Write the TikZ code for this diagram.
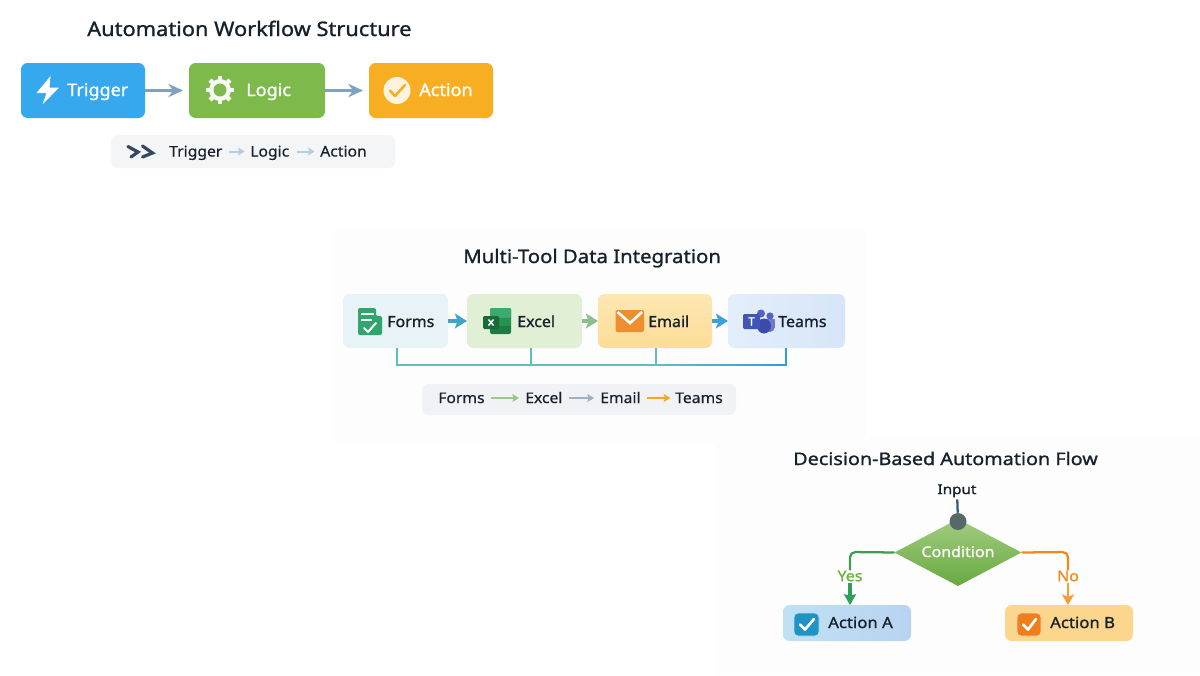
\documentclass[tikz,border=0pt]{standalone}
\usepackage{fontspec}
\setmainfont{Noto Sans}
\newfontfamily\semiA[FakeBold=1.1,FakeStretch=1.04]{Noto Sans}
\newfontfamily\semiB[FakeBold=1.1,FakeStretch=1.09]{Noto Sans}
\newfontfamily\semiC[FakeBold=1.1,FakeStretch=1.14]{Noto Sans}
\newfontfamily\semiD[FakeBold=.5,FakeStretch=1.07]{Noto Sans}
\usetikzlibrary{arrows.meta,shapes.geometric,calc}
\definecolor{ink}{HTML}{17212B}
\definecolor{flow}{HTML}{7FA3BE}
\definecolor{flowdark}{HTML}{34495E}
\definecolor{bus}{HTML}{5FBDBE}
\definecolor{busblue}{HTML}{2F9BE8}
\definecolor{cTrigger}{HTML}{36A8EE}
\definecolor{cLogic}{HTML}{7DB94B}
\definecolor{cAction}{HTML}{F7AE22}
\definecolor{cStrip}{HTML}{F3F5F6}
\definecolor{cStripB}{HTML}{F0F2F5}
\definecolor{cForms}{HTML}{E8F3F7}
\definecolor{cExcel}{HTML}{E1F0D5}
\definecolor{cEmailT}{HTML}{FEE7B2}
\definecolor{cEmailB}{HTML}{FCDD96}
\definecolor{cTeamsL}{HTML}{E3EEFA}
\definecolor{cTeamsR}{HTML}{D6E5F9}
\definecolor{cAL}{HTML}{C0E1F4}
\definecolor{cAR}{HTML}{B8D3F1}
\definecolor{cB}{HTML}{FCD68C}
\definecolor{cDT}{HTML}{A2CC80}
\definecolor{cDB}{HTML}{68A940}
\definecolor{cPanel}{HTML}{FDFDFE}
\definecolor{aForms}{HTML}{3FA4C8}
\definecolor{aExcel}{HTML}{8FBC8F}
\definecolor{aEmail}{HTML}{3AA0DE}
\definecolor{sGreen}{HTML}{9CC68A}
\definecolor{sGrey}{HTML}{9DB2C5}
\definecolor{sOrange}{HTML}{F5A623}
\definecolor{iForms}{HTML}{32A56E}
\definecolor{xDark}{HTML}{1E7B45}
\definecolor{xMid}{HTML}{25924F}
\definecolor{xLight}{HTML}{3BAA6E}
\definecolor{iMail}{HTML}{EF8E2E}
\definecolor{tBlue}{HTML}{3F56B5}
\definecolor{tPurple}{HTML}{5561C4}
\definecolor{tDeep}{HTML}{3C4BA8}
\definecolor{inLine}{HTML}{2F5D7C}
\definecolor{inDot}{HTML}{56686A}
\definecolor{yesLine}{HTML}{3E9E4F}
\definecolor{yesTxt}{HTML}{6CB33F}
\definecolor{yesArrow}{HTML}{2F9E5B}
\definecolor{noLine}{HTML}{F08A1D}
\definecolor{noArrow}{HTML}{F59E2F}
\definecolor{chkA}{HTML}{1F93C4}
\definecolor{chkB}{HTML}{F07E1A}
\tikzset{
  px/.style={x=0.75pt,y=-0.75pt},
  box/.style 2 args={rectangle,rounded corners=5pt,minimum width=0.75pt*#1,minimum height=0.75pt*#2,inner sep=0,outer sep=0},
  bigarrow/.style={draw=flow,line width=2.1pt,-{Stealth[length=11pt,width=10pt,inset=3.5pt]}},
  tiny/.style={line width=1.5pt,-{Stealth[length=5pt,width=6pt,inset=1pt]}},
  midarrow/.style={line width=2.4pt,-{Stealth[length=9pt,width=11pt,inset=2pt]}},
  boxtxt/.style={anchor=base west,inner sep=0,text=white,font=\semiA\fontsize{13}{15}\selectfont},
  lab/.style={anchor=base west,inner sep=0,text=ink,font=\semiA\fontsize{11.5}{14}\selectfont},
  striptxt/.style={anchor=base west,inner sep=0,text=ink,font=\semiD\fontsize{11}{14}\selectfont},
  titl/.style={anchor=base west,inner sep=0,text=ink,font=\semiB\fontsize{#1}{18}\selectfont},
  busline/.style={draw=bus,line width=1.7pt},
  chk/.style={draw=white,line width=2pt,line cap=round,line join=round},
}
\begin{document}
\begin{tikzpicture}[px]
\useasboundingbox (0,0) rectangle (1200,675);
\fill[white] (0,0) rectangle (1200,675);
\fill[cPanel,rounded corners=6pt] (332,230) rectangle (866,442);
\fill[cPanel] (715,437) rectangle (1200,675);

% ---------- Section 1
\node[titl=15] (t1) at (87,36) {Automation Workflow Structure};
\node[box={124}{55},fill=cTrigger] (trigger) at (83,90.5) {};
\node[box={136}{55},fill=cLogic] (logic) at (257,90.5) {};
\node[box={124}{55},fill=cAction] (action) at (431,90.5) {};
\node[boxtxt] (ltrigger) at (67,96) {Trigger};
\node[boxtxt] (llogic) at (246,96) {Logic};
\node[boxtxt] (laction) at (419,96) {Action};
\draw[bigarrow,shorten >=4.5pt] (trigger) -- (logic);
\draw[bigarrow,shorten >=4.5pt] (logic) -- (action);
\fill[white] (50.5,76) -- (36.5,93) -- (46.5,93) -- (42.5,104.5) -- (59,87.5) -- (49.5,87.5) -- cycle;
\begin{scope}[shift={(220,90)}]
  \foreach \a in {0,45,...,315}
    \draw[draw=white!93!cLogic,line width=3.2pt] (\a:9) -- (\a:14);
  \fill[white!93!cLogic] (0,0) circle (11);
  \fill[cLogic] (0,0) circle (6.5);
\end{scope}
\fill[white!85!cAction] (397,90.5) circle (13.5);
\draw[draw=cAction,line width=1.9pt,line cap=round,line join=round] (390,90.5) -- (395,96) -- (405,85);

\node[box={284}{33},fill=cStrip] (strip1) at (253,151.5) {};
\draw[draw=flowdark,line width=2.4pt,line cap=round] (128,146.5) -- (138,152) -- (131,157);
\draw[draw=flowdark,line width=2.4pt,line cap=round] (142.5,146) -- (152.5,153) -- (142.5,157);
\node[striptxt] (s1a) at (169,156.5) {Trigger};
\node[striptxt] (s1b) at (250,156.5) {Logic};
\node[striptxt] (s1c) at (320,156.5) {Action};
\coordinate (y1) at (0,151.5);
\draw[tiny,draw=flow!55,shorten <=5pt,shorten >=4pt] (s1a.east |- y1) -- (s1b.west |- y1);
\draw[tiny,draw=flow!55,shorten <=6pt,shorten >=4pt] (s1b.east |- y1) -- (s1c.west |- y1);

% ---------- Section 2
\node[titl=14] (t2) at (463,263) {Multi-Tool Data Integration};
\node[box={105}{54},fill=cForms] (forms) at (395.5,321) {};
\node[box={115}{54},fill=cExcel] (excel) at (524.5,321) {};
\node[box={114}{54},top color=cEmailT,bottom color=cEmailB] (email) at (655,321) {};
\node[box={117}{54},left color=cTeamsL,right color=cTeamsR] (teams) at (786.5,321) {};
\node[lab] (lforms) at (387,327) {Forms};
\node[lab] (lexcel) at (517,327) {Excel};
\node[lab] (lemail) at (648,327) {Email};
\node[lab] (lteams) at (778,327) {Teams};
\draw[midarrow,draw=aForms] (forms) -- (excel);
\draw[midarrow,draw=aExcel] (excel) -- (email);
\draw[midarrow,draw=aEmail] (email) -- (teams);
% forms icon
\fill[iForms,rounded corners=1.5pt] (358,308) -- (376,308) -- (376,316) -- (382,316) -- (382,335) -- (358,335) -- cycle;
\draw[white,line width=1.6pt] (361,314) -- (374,314);
\draw[white,line width=1.6pt] (361,320) -- (372,320);
\draw[chk,line width=1.5pt] (364,328) -- (368,332) -- (376,323);
% excel icon
\fill[xDark,rounded corners=1.5pt] (490,308) rectangle (511,334);
\fill[xLight,rounded corners=1.5pt] (490,308) rectangle (511,318);
\fill[xMid] (490,318) rectangle (511,326);
\fill[xDark!85!black,rounded corners=1pt] (483,316) rectangle (499,329);
\draw[white,line width=1.1pt] (488.5,319.5) -- (493.5,325.5) (493.5,319.5) -- (488.5,325.5);
% email icon
\fill[iMail,rounded corners=1.5pt] (615.5,310) rectangle (644,332);
\draw[white,line width=2pt,line join=miter] (617.5,312) -- (630,323) -- (642,312);
% teams icon
\fill[tPurple] (770,316) circle (3.6);
\fill[tPurple] (761,313.5) circle (4);
\fill[tPurple!85!white] (765,319) rectangle (775,328);
\fill[tPurple!85!white] (770,327) ellipse (4.8 and 5);
\fill[tDeep] (764,326) ellipse (7 and 7.5);
\fill[tBlue,rounded corners=1pt] (743,314) rectangle (760,329);
\node[inner sep=0,text=white,font=\semiA\fontsize{8.5}{9}\selectfont] (tT) at (751.5,321.5) {T};
% bus
\coordinate (b1) at (397,365);
\coordinate (b2) at (531,365);
\coordinate (b3) at (656,365);
\coordinate (b4) at (786,365);
\draw[busline] (397,348) -- (b1) -- (b2);
\draw[busline] (531,348) -- (b2) -- (b3);
\draw[busline] (656,348) -- (b3);
\foreach \i in {0,...,12} {
  \pgfmathsetmacro{\xa}{656+\i*10}
  \pgfmathsetmacro{\xb}{\xa+10.3}
  \pgfmathsetmacro{\mixv}{100-\i*8}
  \draw[draw=bus!\mixv!busblue,line width=1.7pt] (\xa,365) -- (\xb,365);
}
\draw[draw=busblue,line width=1.7pt,line join=miter] (786,348) -- (b4) -- (780,365);

\node[box={314}{31},fill=cStripB] (strip2) at (579,399.5) {};
\node[striptxt] (s2a) at (438,403) {Forms};
\node[striptxt] (s2b) at (525,403) {Excel};
\node[striptxt] (s2c) at (600,403) {Email};
\node[striptxt] (s2d) at (675,403) {Teams};
\coordinate (y2) at (0,398);
\draw[tiny,line width=1.9pt,draw=sGreen,shorten <=4.5pt,shorten >=4.5pt] (s2a.east |- y2) -- (s2b.west |- y2);
\draw[tiny,line width=1.9pt,draw=sGrey,shorten <=4.5pt,shorten >=4.5pt] (s2b.east |- y2) -- (s2c.west |- y2);
\draw[tiny,line width=1.9pt,draw=sOrange,shorten <=4.5pt,shorten >=3.5pt] (s2c.east |- y2) -- (s2d.west |- y2);

% ---------- Section 3
\node[anchor=base west,inner sep=0,text=ink,font=\semiC\fontsize{13}{18}\selectfont] (t3) at (793,465) {Decision-Based Automation Flow};
\node[inner sep=0,text=ink,anchor=base,font=\semiC\fontsize{10}{12}\selectfont] (input) at (957,494) {Input};
\node[diamond,minimum width=0.75pt*127,minimum height=0.75pt*67,aspect=1.9,inner sep=0,outer sep=0,top color=cDT,bottom color=cDB] (cond) at (958,552.5) {};
\node[inner sep=0,text=white,font=\semiB\fontsize{11}{12}\selectfont] (lcond) at (958,551.5) {Condition};
\node[circle,minimum size=0.75pt*17,inner sep=0,fill=inDot] (dot) at (958,521.5) {};
\draw[draw=inLine,line width=1.7pt,shorten <=1.5pt] (input) -- (dot);
\node[box={128}{36},left color=cAL,right color=cAR] (acta) at (847,623) {};
\node[box={128}{36},fill=cB] (actb) at (1069,623) {};
\node[inner sep=0,text=yesTxt,font=\semiB\fontsize{11}{12}\selectfont] (yes) at (850,576) {Yes};
\node[inner sep=0,text=noLine,font=\semiB\fontsize{11}{12}\selectfont] (no) at (1068,576) {No};
\draw[draw=yesLine,line width=1.7pt,rounded corners=4pt] (cond.west) -- (850,552) -- (yes.north);
\draw[draw=noLine,line width=1.7pt,rounded corners=4pt] (cond.east) -- (1068,552) -- (no.north);
\draw[midarrow,draw=yesArrow,-{Stealth[length=8pt,width=9pt,inset=1pt]}] (yes.south) ++(0,1) -- (acta.north -| yes);
\draw[midarrow,line width=1.7pt,draw=noArrow,-{Stealth[length=8pt,width=9pt,inset=2pt]}] (no.south) ++(0,1) -- (actb.north -| no);
\fill[chkA,rounded corners=3pt,draw=white!70!chkA,line width=.6pt] (794,613) rectangle (819,636);
\draw[chk] (800,624.5) -- (805,629.5) -- (814,619);
\fill[chkB,rounded corners=3pt,draw=white!70!chkB,line width=.6pt] (1017,613) rectangle (1041,636);
\draw[chk] (1023,624.5) -- (1028,629.5) -- (1036,619);
\node[inner sep=0,anchor=base west,text=ink,font=\semiB\fontsize{11.5}{12}\selectfont] (la) at (828,628) {Action A};
\node[inner sep=0,anchor=base west,text=ink,font=\semiB\fontsize{11.5}{12}\selectfont] (lb) at (1050,628) {Action B};
\end{tikzpicture}
\end{document}
